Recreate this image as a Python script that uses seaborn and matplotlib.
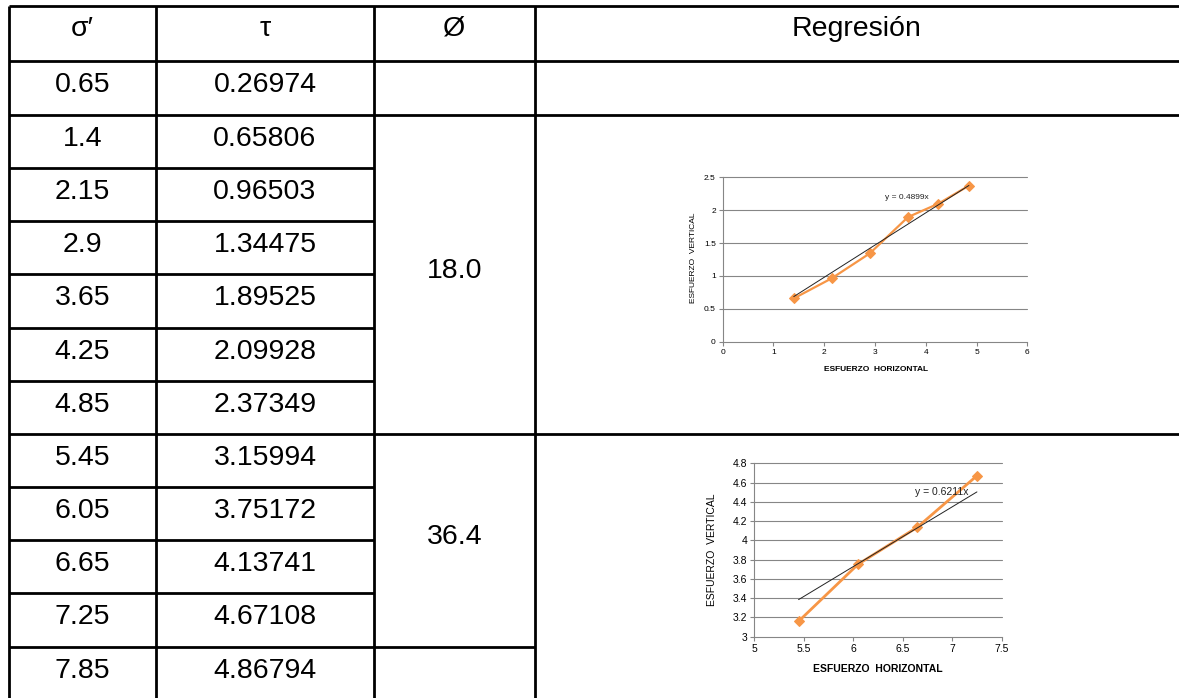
import matplotlib
matplotlib.use("Agg")
import matplotlib.pyplot as plt
import numpy as np
import seaborn as sns

# datos de la tabla
sigma = [0.65, 1.4, 2.15, 2.9, 3.65, 4.25, 4.85, 5.45, 6.05, 6.65, 7.25, 7.85]
tau = [0.26974, 0.65806, 0.96503, 1.34475, 1.89525, 2.09928, 2.37349,
       3.15994, 3.75172, 4.13741, 4.67108, 4.86794]
headers = ["σ′", "τ", "Ø", "Regresión"]
phi_1 = "18.0"
phi_2 = "36.4"

# series de cada grafico
x_1 = [1.4, 2.15, 2.9, 3.65, 4.25, 4.85]
y_1 = [0.65806, 0.96503, 1.34475, 1.89525, 2.09928, 2.37349]
pend_1 = 0.4899
x_2 = [5.45, 6.05, 6.65, 7.25]
y_2 = [3.15994, 3.75172, 4.13741, 4.67108]
pend_2 = 0.6211

sns.set_style("white")
plt.rcParams['font.family'] = ['Liberation Sans', 'DejaVu Sans']
plt.rcParams['text.color'] = 'black'

W, H = 1179, 698
fig = plt.figure(figsize=(W / 100, H / 100), dpi=100)
ax = fig.add_axes([0, 0, 1, 1])
ax.set_xlim(0, W)
ax.set_ylim(H, 0)
ax.axis("off")

# geometria de la tabla (px)
cols = [9, 156, 374, 535]
row_tops = [61, 115, 168, 221, 274, 328, 381, 434, 487, 540, 593, 647]
lw_tabla = 2.0

ax.hlines([6, 61, 115, 434], cols[0], W, color="black", lw=lw_tabla)
ax.hlines([168, 221, 274, 328, 381, 487, 540, 593], cols[0], cols[2],
          color="black", lw=lw_tabla)
ax.hlines(647, cols[0], cols[3], color="black", lw=lw_tabla)
ax.vlines(cols, 6, H, color="black", lw=lw_tabla)

fs = 20.5
centros = [(cols[0] + cols[1]) / 2, (cols[1] + cols[2]) / 2,
           (cols[2] + cols[3]) / 2, (cols[3] + W) / 2]
for c, h in zip(centros, headers):
    ax.text(c, 36, h, ha="center", va="baseline", fontsize=fs, color="black")

for top, s, t in zip(row_tops, sigma, tau):
    ax.text(centros[0], top + 31, f"{s:g}", ha="center", va="baseline",
            fontsize=fs, color="black")
    ax.text(centros[1], top + 31, f"{t:.5f}", ha="center", va="baseline",
            fontsize=fs, color="black")

ax.text(centros[2], (115 + 434) / 2 + 3.5, phi_1, ha="center", va="baseline",
        fontsize=fs, color="black")
ax.text(centros[2], (434 + 647) / 2 + 3.5, phi_2, ha="center", va="baseline",
        fontsize=fs, color="black")

naranja = "#F79646"
gris = "#868686"


def grafico(rect_px, xs, ys, pend, xlim, ylim, xt, yt, txt_pos, fsz, lw, label_pos):
    x0, y0, x1, y1 = rect_px
    a = fig.add_axes([x0 / W, 1 - y1 / H, (x1 - x0) / W, (y1 - y0) / H])
    a.set_xlim(*xlim)
    a.set_ylim(*ylim)
    a.set_xticks(xt)
    a.set_yticks(yt)
    a.set_xticklabels([f"{v:g}" for v in xt])
    a.set_yticklabels([f"{v:g}" for v in yt])
    for v in yt[1:]:
        a.axhline(v, color=gris, lw=0.8, clip_on=False, zorder=0)
    for s in ["top", "right"]:
        a.spines[s].set_visible(False)
    for s in ["left", "bottom"]:
        a.spines[s].set_color(gris)
        a.spines[s].set_linewidth(0.8)
    a.tick_params(axis="both", direction="out", length=3, width=0.8, color=gris,
                  labelsize=fsz, pad=2, labelcolor="black",
                  bottom=True, left=True)
    a.patch.set_alpha(0)

    sns.lineplot(x=xs, y=ys, marker="D", color=naranja, lw=lw, markersize=5,
                 markeredgecolor=naranja, ax=a, zorder=3)
    xr = np.array([min(xs), max(xs)])
    a.plot(xr, pend * xr, color="#222222", lw=0.7, zorder=4)
    a.text(txt_pos[0], txt_pos[1], f"y = {pend}x", ha="center", va="center",
           fontsize=fsz, color="#222222")

    a.set_xlabel("ESFUERZO  HORIZONTAL", fontsize=fsz, fontweight="bold", color="black")
    a.set_ylabel("ESFUERZO  VERTICAL", fontsize=fsz, color="black")
    a.xaxis.set_label_coords(label_pos[0], label_pos[1])
    a.yaxis.set_label_coords(label_pos[2], label_pos[3])
    return a


grafico((722.7, 177.3, 1027.3, 341.7), x_1, y_1, pend_1, (0, 6), (0, 2.5),
        [0, 1, 2, 3, 4, 5, 6], [0, 0.5, 1, 1.5, 2, 2.5], (3.63, 2.2), 6, 1.6,
        (0.503, -0.15, -0.085, 0.51))
grafico((754, 463.3, 1001.7, 636.7), x_2, y_2, pend_2, (5, 7.5), (3, 4.8),
        [5, 5.5, 6, 6.5, 7, 7.5], [3, 3.2, 3.4, 3.6, 3.8, 4, 4.2, 4.4, 4.6, 4.8],
        (6.89, 4.5), 7.5, 2.0, (0.499, -0.16, -0.15, 0.5))

fig.savefig("out.png", dpi=100, facecolor="white")
